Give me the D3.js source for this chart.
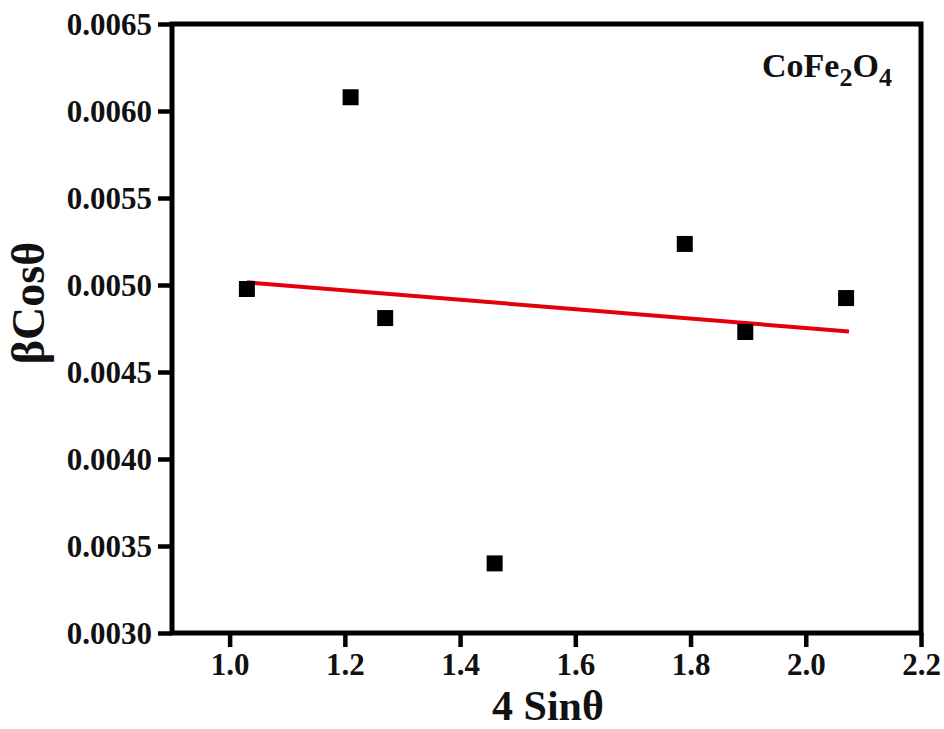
<!DOCTYPE html>
<html><head><meta charset="utf-8">
<script src="https://cdn.jsdelivr.net/npm/d3@7"></script>
<style>body{margin:0;background:#fff}svg{display:block}</style>
</head><body>
<svg id="c" width="944" height="729"></svg>
<script>
const xValues = [1.03, 1.21, 1.27, 1.46, 1.79, 1.895, 2.07];
const yValues = [0.004977, 0.006079, 0.00481, 0.0034, 0.005236, 0.00473, 0.004925];
const xTicks = [1.0, 1.2, 1.4, 1.6, 1.8, 2.0, 2.2];
const yTicks = [0.0030, 0.0035, 0.0040, 0.0045, 0.0050, 0.0055, 0.0060, 0.0065];
const fitRange = [1.03, 2.075];

const svg = d3.select("#c");
const L = 172, R = 921, T = 24, B = 633;
const x = d3.scaleLinear().domain([0.9, 2.2]).range([L, R]);
const y = d3.scaleLinear().domain([0.003, 0.0065]).range([B, T]);
const font = "'Liberation Serif','Times New Roman',serif";

// linear regression
const mx = d3.mean(xValues), my = d3.mean(yValues);
const slope = d3.sum(xValues, (v,i)=>(v-mx)*(yValues[i]-my)) / d3.sum(xValues, v=>(v-mx)*(v-mx));
const icpt = my - slope*mx;

// axes
const xAxis = d3.axisBottom(x).tickValues(xTicks).tickSize(14).tickPadding(6).tickFormat(d3.format(".1f"));
const yAxis = d3.axisLeft(y).tickValues(yTicks).tickSize(14).tickPadding(6).tickFormat(d3.format(".4f"));
const gx = svg.append("g").attr("transform",`translate(0,${B})`).call(xAxis);
const gy = svg.append("g").attr("transform",`translate(${L},0)`).call(yAxis);
[gx, gy].forEach(g=>{
  g.select(".domain").remove();
  g.selectAll(".tick line").attr("stroke","#000").attr("stroke-width",4.5);
  g.selectAll(".tick text").attr("fill","#111").style("font-family",font).style("font-weight","bold").style("font-size","31px");
});
gy.selectAll(".tick text").attr("dy","0.34em");

// frame
svg.append("rect").attr("x",L).attr("y",T).attr("width",R-L).attr("height",B-T)
  .attr("fill","none").attr("stroke","#000").attr("stroke-width",5);

// fit line
svg.append("line")
  .attr("x1",x(fitRange[0])).attr("y1",y(slope*fitRange[0]+icpt))
  .attr("x2",x(fitRange[1])).attr("y2",y(slope*fitRange[1]+icpt))
  .attr("stroke","#e3000b").attr("stroke-width",4);

// points
const s = 16;
svg.append("g").selectAll("rect").data(xValues).join("rect")
  .attr("x",(d)=>x(d)-s/2).attr("y",(d,i)=>y(yValues[i])-s/2)
  .attr("width",s).attr("height",s).attr("fill","#000");

// axis titles
svg.append("text").attr("x",548).attr("y",719.5).attr("text-anchor","middle")
  .style("font-family",font).style("font-weight","bold").style("font-size","42px").attr("fill","#111")
  .text("4 Sinθ");
svg.append("text").attr("transform","translate(44,303) rotate(-90)").attr("text-anchor","middle")
  .style("font-family",font).style("font-weight","bold").style("font-size","46px").attr("fill","#111")
  .text("βCosθ");

// label
const lab = svg.append("text").attr("x",762).attr("y",77)
  .style("font-family",font).style("font-weight","bold").style("font-size","34px").attr("fill","#111");
lab.append("tspan").text("CoFe");
lab.append("tspan").attr("dy",9).style("font-size","26px").text("2");
lab.append("tspan").attr("dy",-9).text("O");
lab.append("tspan").attr("dy",9).style("font-size","26px").text("4");
</script>
</body></html>
